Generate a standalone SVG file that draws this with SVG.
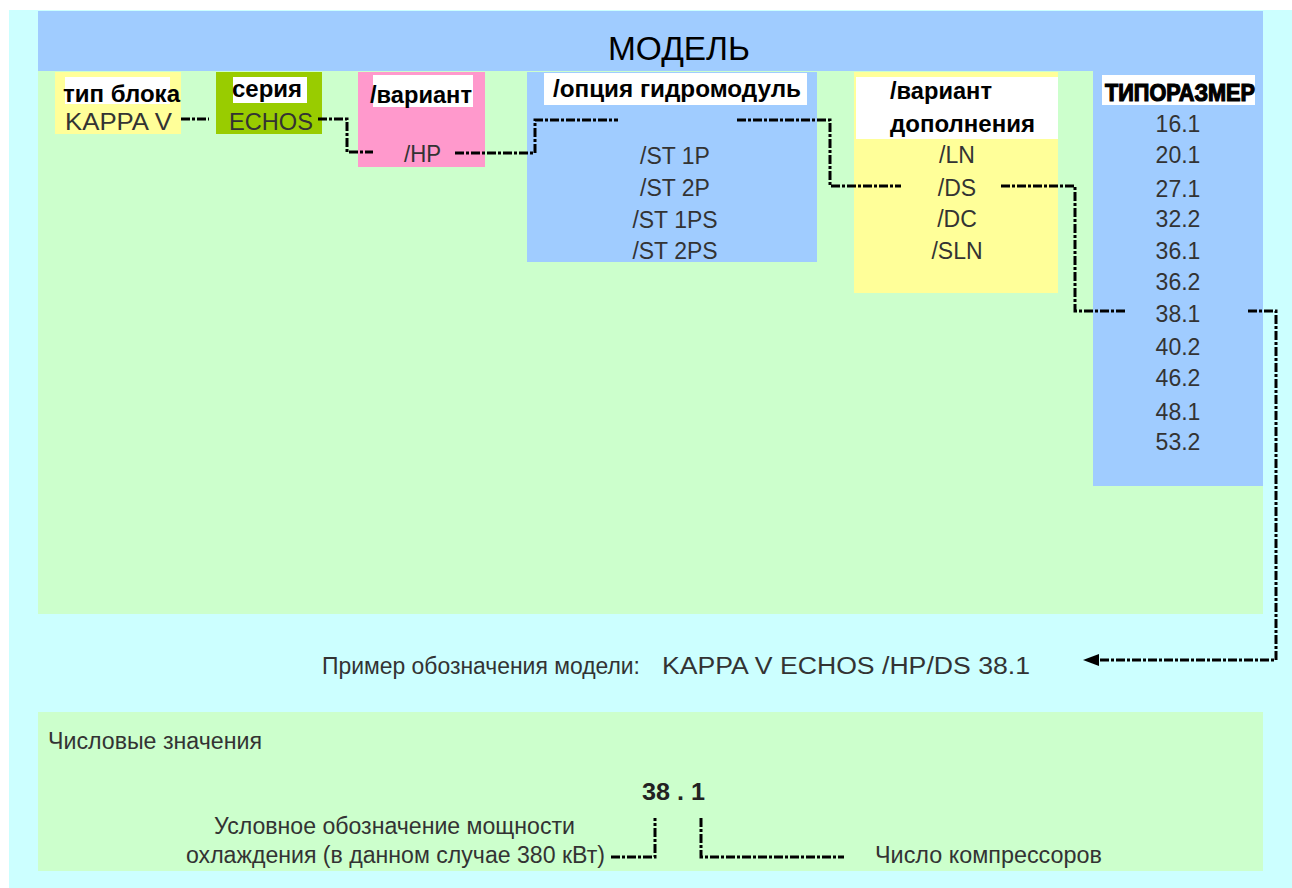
<svg xmlns="http://www.w3.org/2000/svg" width="1292" height="888" viewBox="0 0 1292 888">
<style>
.t{font-family:"Liberation Sans",Arial,sans-serif;font-size:23px;fill:#333333}
.c{text-anchor:middle}
.b{font-family:"Liberation Sans",Arial,sans-serif;font-weight:bold;fill:#000}
.ln{fill:none;stroke:#000;stroke-width:3;stroke-dasharray:9 2 3 2}
</style>
<defs>
<marker id="ah" markerWidth="14" markerHeight="10" refX="0" refY="5" orient="auto-start-reverse" markerUnits="userSpaceOnUse">
<path d="M0,5 L14,0 L14,10 Z" fill="#000"/>
</marker>
</defs>
<rect x="0" y="0" width="1292" height="888" fill="#ffffff"/>
<rect x="9" y="10" width="1283" height="878" fill="#ccffff"/>
<rect x="38" y="11" width="1225" height="60" fill="#a0ccff"/>
<rect x="38" y="71" width="1225" height="543" fill="#ccffcc"/>
<rect x="38" y="712" width="1225" height="159" fill="#ccffcc"/>
<g id="title"><text class="t" x="679" y="60" text-anchor="middle" style="font-size:33px;fill:#000" textLength="142" lengthAdjust="spacingAndGlyphs">МОДЕЛЬ</text></g>

<g id="node-tip">
<rect x="55" y="72" width="126" height="62" fill="#ffff99"/>
<rect x="65" y="77" width="105" height="27" fill="#fff"/>
<text class="b" x="63" y="102" style="font-size:23px" textLength="117" lengthAdjust="spacingAndGlyphs">тип блока</text>
<text class="t" x="65" y="130" style="font-size:24px" textLength="107" lengthAdjust="spacingAndGlyphs">KAPPA V</text>
</g>
<g id="node-seria">
<rect x="216" y="72" width="106" height="62" fill="#99cc00"/>
<rect x="233" y="77" width="74" height="26" fill="#fff"/>
<text class="b" x="232" y="97" style="font-size:23px" textLength="70" lengthAdjust="spacingAndGlyphs">серия</text>
<text class="t" x="229" y="130" style="font-size:24px" textLength="84" lengthAdjust="spacingAndGlyphs">ECHOS</text>
</g>
<g id="node-variant">
<rect x="358" y="72" width="127" height="95" fill="#ff99cc"/>
<rect x="373" y="75" width="100" height="32" fill="#fff"/>
<text class="b" x="370" y="103" style="font-size:23px" textLength="102" lengthAdjust="spacingAndGlyphs">/вариант</text>
<text class="t" x="404" y="162" style="font-size:24px" textLength="37" lengthAdjust="spacingAndGlyphs">/HP</text>
</g>
<g id="node-option">
<rect x="527" y="72" width="290" height="190" fill="#a0ccff"/>
<rect x="544" y="73" width="263" height="32" fill="#fff"/>
<text class="b" x="553" y="97" style="font-size:23px" textLength="248" lengthAdjust="spacingAndGlyphs">/опция гидромодуль</text>
<text class="t c" x="675" y="164">/ST 1P</text>
<text class="t c" x="675" y="196">/ST 2P</text>
<text class="t c" x="675" y="228">/ST 1PS</text>
<text class="t c" x="675" y="259">/ST 2PS</text>
</g>
<g id="node-addition">
<rect x="854" y="72" width="204" height="221" fill="#ffff99"/>
<rect x="856" y="77" width="202" height="62" fill="#fff"/>
<text class="b" x="890" y="99" style="font-size:23px" textLength="102" lengthAdjust="spacingAndGlyphs">/вариант</text>
<text class="b" x="890" y="132" style="font-size:23px" textLength="145" lengthAdjust="spacingAndGlyphs">дополнения</text>
<text class="t c" x="957" y="163">/LN</text>
<text class="t c" x="957" y="196">/DS</text>
<text class="t c" x="957" y="227">/DC</text>
<text class="t c" x="957" y="259">/SLN</text>
</g>
<g id="node-size">
<rect x="1093" y="71" width="170" height="415" fill="#a0ccff"/>
<rect x="1102" y="75" width="153" height="30" fill="#fff"/>
<text class="b" x="1105" y="101" style="font-size:24px;font-weight:900;stroke:#000;stroke-width:1.2" textLength="150" lengthAdjust="spacingAndGlyphs">ТИПОРАЗМЕР</text>
<text class="t c" x="1178" y="132">16.1</text>
<text class="t c" x="1178" y="163">20.1</text>
<text class="t c" x="1178" y="197">27.1</text>
<text class="t c" x="1178" y="227">32.2</text>
<text class="t c" x="1178" y="259">36.1</text>
<text class="t c" x="1178" y="290">36.2</text>
<text class="t c" x="1178" y="322">38.1</text>
<text class="t c" x="1178" y="355">40.2</text>
<text class="t c" x="1178" y="386">46.2</text>
<text class="t c" x="1178" y="420">48.1</text>
<text class="t c" x="1178" y="450">53.2</text>
</g>
<g id="example">
<text class="t" x="322" y="674" textLength="318" lengthAdjust="spacingAndGlyphs">Пример обозначения модели:</text>
<text class="t" x="662" y="674" textLength="368" lengthAdjust="spacingAndGlyphs">KAPPA V ECHOS /HP/DS 38.1</text>
</g>
<g id="numeric">
<text class="t" x="48" y="749" textLength="214" lengthAdjust="spacingAndGlyphs">Числовые значения</text>
<text class="b" x="642" y="800" style="font-size:24px;fill:#222" textLength="63" lengthAdjust="spacingAndGlyphs">38 . 1</text>
<text class="t" x="214" y="834" textLength="361" lengthAdjust="spacingAndGlyphs">Условное обозначение мощности</text>
<text class="t" x="186" y="863" textLength="419" lengthAdjust="spacingAndGlyphs">охлаждения (в данном случае 380 кВт)</text>
<text class="t" x="875" y="863" textLength="227" lengthAdjust="spacingAndGlyphs">Число компрессоров</text>
</g>
<g id="connectors">
<path class="ln" d="M181,119 H209"/>
<path class="ln" d="M318,119 H347 V152 H373"/>
<path class="ln" d="M455,153 H535 V120 H618"/>
<path class="ln" d="M737,120 H830 V186 H901"/>
<path class="ln" d="M1001,186 H1075 V311 H1127"/>
<path class="ln" d="M1248,311 H1276 V660 H1097"/>
<path d="M1083,660 L1099,654 L1099,666 Z" fill="#000"/>
<path class="ln" d="M611,857 H655 V818"/>
<path class="ln" d="M701,818 V857 H844"/>
</g>
</svg>
